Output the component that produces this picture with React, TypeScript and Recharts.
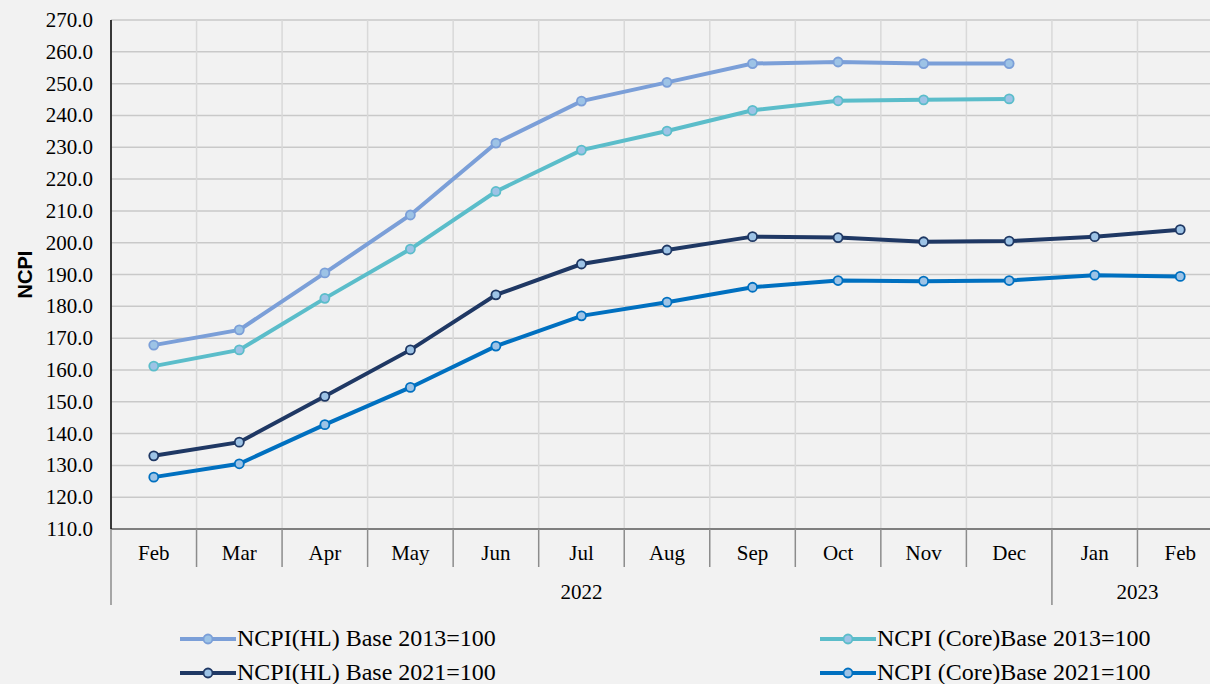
import React from "react";
import { LineChart, Line, XAxis, YAxis, CartesianGrid, ReferenceLine, Legend } from "recharts";

const months = ["Feb", "Mar", "Apr", "May", "Jun", "Jul", "Aug", "Sep", "Oct", "Nov", "Dec", "Jan", "Feb"];
const years = [
    { label: "2022", from: 0, to: 10 },
    { label: "2023", from: 11, to: 12 },
];

const hl2013 = [167.8, 172.6, 190.5, 208.7, 231.3, 244.5, 250.4, 256.3, 256.8, 256.3, 256.3, null, null];
const core2013 = [161.2, 166.3, 182.5, 198.0, 216.1, 229.1, 235.1, 241.6, 244.6, 244.9, 245.2, null, null];
const hl2021 = [133.0, 137.3, 151.7, 166.3, 183.6, 193.3, 197.7, 201.9, 201.6, 200.3, 200.5, 201.9, 204.1];
const core2021 = [126.3, 130.5, 142.8, 154.5, 167.5, 177.0, 181.3, 186.0, 188.1, 187.9, 188.1, 189.8, 189.4];

const yTicks = [110, 120, 130, 140, 150, 160, 170, 180, 190, 200, 210, 220, 230, 240, 250, 260, 270];

const series = [
    { key: "hl2013", name: "NCPI(HL) Base 2013=100", color: "#7b9fd8" },
    { key: "core2013", name: "NCPI (Core)Base 2013=100", color: "#5bbdca" },
    { key: "hl2021", name: "NCPI(HL) Base 2021=100", color: "#1f3864" },
    { key: "core2021", name: "NCPI (Core)Base 2021=100", color: "#0070c0" },
];

const data = months.map((m, i) => ({
    idx: i,
    month: m,
    hl2013: hl2013[i],
    core2013: core2013[i],
    hl2021: hl2021[i],
    core2021: core2021[i],
}));

// category boundaries sit half way between months
const boundaries = months.map((_, i) => i - 0.5).concat(months.length - 0.5);
const groupEdges = years.flatMap((g) => [g.from - 0.5, g.to + 0.5]);
const groupMids = years.map((g) => ({ label: g.label, pos: (g.from + g.to) / 2 }));
const xTicks = Array.from(new Set([...boundaries, ...months.map((_, i) => i)])).sort((a, b) => a - b);

const serif = "'Liberation Serif', 'Times New Roman', serif";
const serifText = { fontFamily: serif, fontSize: 21 };

function AxisTick(props: any) {
    const { x, y, payload } = props;
    const v = payload.value as number;
    const isBoundary = Math.abs(v % 1) === 0.5;
    const year = groupMids.find((g) => g.pos === v);
    return (
        <g>
            {isBoundary && (
                <line
                    x1={x}
                    x2={x}
                    y1={y}
                    y2={y + (groupEdges.includes(v) ? 76 : 38)}
                    stroke="#8c8c8c"
                    strokeWidth={1.5}
                />
            )}
            {!isBoundary && (
                <text x={x} y={y + 31} textAnchor="middle" style={serifText} fill="#000">
                    {months[v]}
                </text>
            )}
            {year && (
                <text x={x} y={y + 70} textAnchor="middle" style={serifText} fill="#000">
                    {year.label}
                </text>
            )}
        </g>
    );
}

function ValueTick(props: any) {
    const { x, y, payload } = props;
    return (
        <text x={x} y={y + 7} textAnchor="end" style={serifText} fill="#000">
            {Number(payload.value).toFixed(1)}
        </text>
    );
}

function LegendBox() {
    const pos = [
        { left: 180, top: 12 },
        { left: 820, top: 12 },
        { left: 180, top: 46 },
        { left: 820, top: 46 },
    ];
    return (
        <div style={{ position: "relative", height: 70, width: 1210 }}>
            {series.map((s, i) => (
                <div
                    key={s.key}
                    style={{
                        position: "absolute",
                        left: pos[i].left,
                        top: pos[i].top,
                        height: 35,
                        display: "flex",
                        alignItems: "center",
                        whiteSpace: "nowrap",
                    }}
                >
                    <svg width={57} height={14}>
                        <line x1={0} x2={56} y1={7} y2={7} stroke={s.color} strokeWidth={4} />
                        <circle cx={28} cy={7} r={4.5} fill="#9dc3e6" stroke={s.color} strokeWidth={1.8} />
                    </svg>
                    <span style={{ fontFamily: serif, fontSize: 24, color: "#000" }}>{s.name}</span>
                </div>
            ))}
        </div>
    );
}

export default function App() {
    return (
        <div
            style={{
                position: "fixed",
                left: 0,
                top: 0,
                width: 1210,
                height: 684,
                overflow: "hidden",
                background: "#f2f2f2",
                fontFamily: serif,
            }}
        >
            <LineChart
                width={1230}
                height={684}
                data={data}
                margin={{ top: 20, right: 7, bottom: 5, left: 11 }}
                style={{ background: "#f2f2f2" }}
            >
                <CartesianGrid vertical={false} stroke="#c9c9c9" strokeWidth={1.5} />
                {boundaries.map((b) => (
                    <ReferenceLine key={b} x={b} stroke="#d9d9d9" strokeWidth={1.5} />
                ))}
                <XAxis
                    dataKey="idx"
                    type="number"
                    domain={[-0.5, months.length - 0.5]}
                    ticks={xTicks}
                    interval={0}
                    tickLine={false}
                    tickSize={0}
                    tickMargin={0}
                    height={80}
                    axisLine={{ stroke: "#7f7f7f", strokeWidth: 2 }}
                    tick={<AxisTick />}
                />
                <YAxis
                    domain={[110, 270]}
                    ticks={yTicks}
                    interval={0}
                    width={100}
                    tickLine={false}
                    tickMargin={12}
                    axisLine={{ stroke: "#000", strokeWidth: 1.5 }}
                    tick={<ValueTick />}
                    label={{
                        value: "NCPI",
                        angle: -90,
                        position: "insideLeft",
                        offset: 14,
                        style: {
                            fontFamily: "'Liberation Sans', Arial, sans-serif",
                            fontWeight: "bold",
                            fontSize: 20,
                            fill: "#000",
                            textAnchor: "middle",
                        },
                    }}
                />
                {series.map((s) => (
                    <Line
                        key={s.key}
                        dataKey={s.key}
                        name={s.name}
                        type="linear"
                        stroke={s.color}
                        strokeWidth={4}
                        dot={{ r: 4.5, fill: "#9dc3e6", stroke: s.color, strokeWidth: 1.8 }}
                        activeDot={false}
                        isAnimationActive={false}
                    />
                ))}
                <Legend verticalAlign="bottom" content={() => <LegendBox />} wrapperStyle={{ left: 0, width: 1210 }} />
            </LineChart>
        </div>
    );
}
